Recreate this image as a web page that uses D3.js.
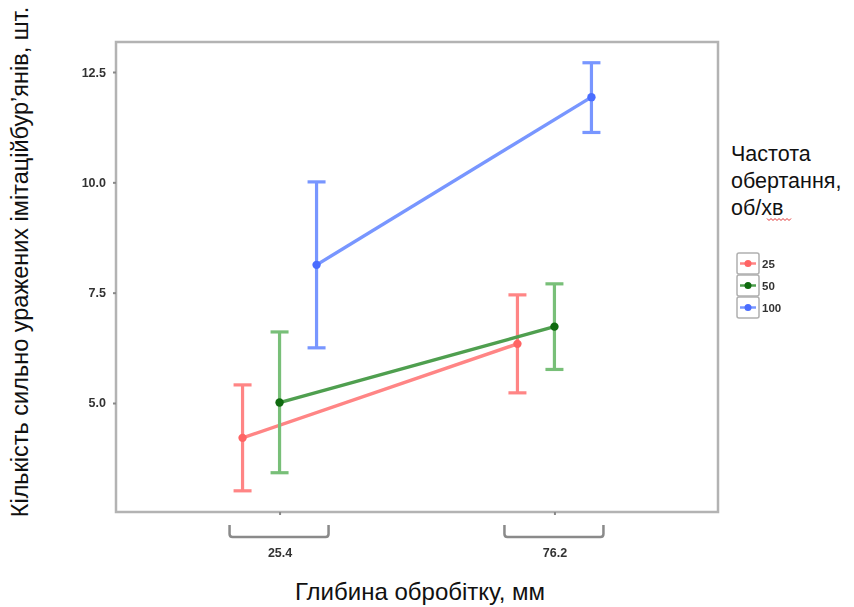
<!DOCTYPE html>
<html>
<head>
<meta charset="utf-8">
<script src="https://cdn.jsdelivr.net/npm/d3@7"></script>
<style>
  html, body { margin: 0; padding: 0; background: #fff; }
  svg { display: block; }
  .tick text { font-family: "Liberation Sans", Arial, sans-serif; font-weight: bold; font-size: 12.5px; fill: #333; filter: url(#soft); }
</style>
</head>
<body>
<svg id="chart" width="854" height="607"></svg>
<script>
// Depth categories (x axis) and rotation speed groups (legend)
const depths = ["25.4", "76.2"];
const speeds = ["25", "50", "100"];

// Mean counts with lower / upper error-bar ends, one value per depth
const mean25  = [4.21, 6.34];
const low25   = [3.01, 5.23];
const high25  = [5.41, 7.45];

const mean50  = [5.01, 6.73];
const low50   = [3.42, 5.76];
const high50  = [6.61, 7.70];

const mean100 = [8.13, 11.93];
const low100  = [6.25, 11.13];
const high100 = [10.01, 12.71];

const yTicks = [5.0, 7.5, 10.0, 12.5];

const colors = {
  "25":  { line: "#ff8585", point: "#ff6464" },
  "50":  { line: "#4f9f4f", bar: "#78bf78", point: "#0f6a0f" },
  "100": { line: "#7896ff", point: "#4a6dff" }
};

const series = [
  { key: "25",  mean: mean25,  low: low25,  high: high25 },
  { key: "50",  mean: mean50,  low: low50,  high: high50 },
  { key: "100", mean: mean100, low: low100, high: high100 }
];

const svg = d3.select("#chart");
const pLeft = 116, pRight = 718, pTop = 42, pBottom = 512;

// Slight softening for the small bold labels
svg.append("defs").append("filter").attr("id", "soft")
  .append("feGaussianBlur").attr("stdDeviation", 0.55);

const x = d3.scalePoint().domain(depths).range([pLeft, pRight]).padding(0.595);
const dodge = d3.scalePoint().domain(speeds).range([-37, 37]);
const y = d3.scaleLinear().domain([2.53, 13.18]).range([pBottom, pTop]);

// Panel frame
svg.append("rect")
  .attr("x", pLeft).attr("y", pTop)
  .attr("width", pRight - pLeft).attr("height", pBottom - pTop)
  .attr("fill", "none").attr("stroke", "#b3b3b3").attr("stroke-width", 2.5);

// Y axis
const yAxis = svg.append("g")
  .attr("transform", `translate(${pLeft},0)`)
  .call(d3.axisLeft(y).tickValues(yTicks).tickFormat(d3.format(".1f")).tickSize(3).tickPadding(7));
yAxis.select(".domain").remove();
yAxis.selectAll(".tick line").attr("stroke", "#888").attr("stroke-width", 2);

// X axis
const xAxis = svg.append("g")
  .attr("transform", `translate(0,${pBottom})`)
  .call(d3.axisBottom(x).tickSize(3).tickPadding(33));
xAxis.select(".domain").remove();
xAxis.selectAll(".tick line").attr("stroke", "#888").attr("stroke-width", 2);

// Brackets under each depth category
svg.append("g").selectAll("path")
  .data(depths)
  .join("path")
  .attr("d", d => {
    const c = x(d), a = c - 50, b = c + 49, t = 525, btm = 537;
    return `M${a},${t} L${a},${btm - 3} Q${a},${btm} ${a + 3},${btm} L${b - 3},${btm} Q${b},${btm} ${b},${btm - 3} L${b},${t}`;
  })
  .attr("fill", "none").attr("stroke", "#8a8a8a").attr("stroke-width", 2.5);

// Lines, error bars and points per rotation speed
series.forEach(s => {
  const c = colors[s.key];
  const g = svg.append("g");
  const pts = depths.map((d, i) => ({ x: x(d) + dodge(s.key), m: s.mean[i], lo: s.low[i], hi: s.high[i] }));

  g.append("path")
    .datum(pts)
    .attr("d", d3.line().x(p => p.x).y(p => y(p.m)))
    .attr("fill", "none").attr("stroke", c.line).attr("stroke-width", 3.4);

  const bars = g.selectAll("g.bar").data(pts).join("g").attr("class", "bar")
    .attr("stroke", c.bar || c.line).attr("stroke-width", 3.2);
  bars.append("line").attr("x1", p => p.x).attr("x2", p => p.x).attr("y1", p => y(p.lo)).attr("y2", p => y(p.hi));
  bars.append("line").attr("x1", p => p.x - 9).attr("x2", p => p.x + 9).attr("y1", p => y(p.hi)).attr("y2", p => y(p.hi));
  bars.append("line").attr("x1", p => p.x - 9).attr("x2", p => p.x + 9).attr("y1", p => y(p.lo)).attr("y2", p => y(p.lo));

  g.selectAll("circle").data(pts).join("circle")
    .attr("cx", p => p.x).attr("cy", p => y(p.m)).attr("r", 4.2)
    .attr("fill", c.point);
});

// Axis titles
svg.append("text")
  .attr("transform", "translate(28,262) rotate(-90)")
  .attr("text-anchor", "middle")
  .attr("font-family", "Liberation Sans, Arial, sans-serif")
  .attr("font-size", 23.5)
  .attr("fill", "#111")
  .text("Кількість сильно уражених імітаційбур’янів, шт.");

svg.append("text")
  .attr("x", 420).attr("y", 600)
  .attr("text-anchor", "middle")
  .attr("font-family", "Liberation Sans, Arial, sans-serif")
  .attr("font-size", 24)
  .attr("fill", "#111")
  .text("Глибина обробітку, мм");

// Legend title
const legTitle = ["Частота", "обертання,", "об/хв"];
svg.append("g").selectAll("text")
  .data(legTitle)
  .join("text")
  .attr("x", 731)
  .attr("y", (d, i) => 161 + i * 27)
  .attr("font-family", "Liberation Sans, Arial, sans-serif")
  .attr("font-size", 21.5)
  .attr("fill", "#111")
  .text(d => d);

// Spell-check squiggle under "хв"
const sq = d3.range(0, 13).map(i => [767 + i * 2, 219 + (i % 2 ? 1.5 : -0.5)]);
svg.append("path")
  .attr("d", d3.line()(sq))
  .attr("fill", "none").attr("stroke", "#e03030").attr("stroke-width", 1);

// Legend keys
const keyH = 22;
const leg = svg.append("g").attr("transform", "translate(737,252)");
const keys = leg.selectAll("g").data(speeds).join("g")
  .attr("transform", (d, i) => `translate(0,${i * keyH})`);
keys.append("rect")
  .attr("x", 0).attr("y", 1).attr("width", 22).attr("height", keyH - 1).attr("rx", 2)
  .attr("fill", "#fff").attr("stroke", "#b0b0b0").attr("stroke-width", 1.5);
keys.append("line")
  .attr("x1", 3).attr("x2", 19).attr("y1", 11.5).attr("y2", 11.5)
  .attr("stroke", d => colors[d].line).attr("stroke-width", 2.5);
keys.append("circle")
  .attr("cx", 11).attr("cy", 11.5).attr("r", 3.5)
  .attr("fill", d => colors[d].point);
keys.append("text")
  .attr("x", 25).attr("y", 16)
  .attr("font-family", "Liberation Sans, Arial, sans-serif")
  .attr("font-weight", "bold").attr("font-size", 11.5)
  .attr("fill", "#333")
  .attr("filter", "url(#soft)")
  .text(d => d);
</script>
</body>
</html>
